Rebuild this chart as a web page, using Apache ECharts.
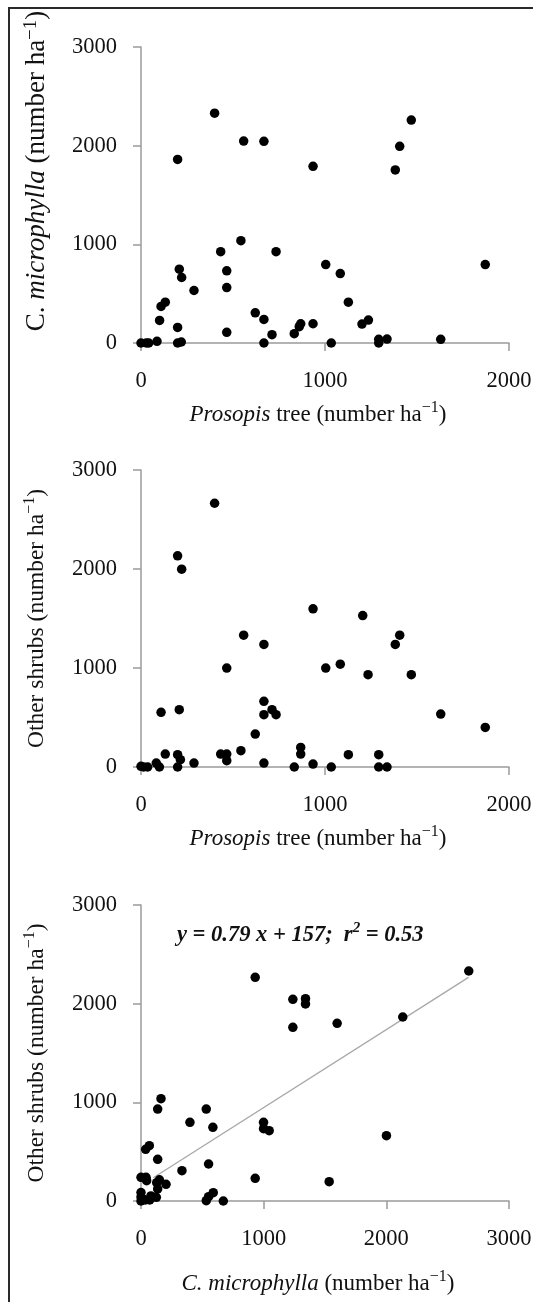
<!DOCTYPE html>
<html>
<head>
<meta charset="utf-8">
<script src="https://cdn.jsdelivr.net/npm/echarts@6/dist/echarts.min.js"></script>
<style>
  html, body { margin: 0; padding: 0; background: #fff; }
  #chart { width: 533px; height: 1302px; }
</style>
</head>
<body>
<div id="chart"></div>
<script>
// panel 1: Prosopis tree vs C. microphylla
const p1Prosopis = [0, 29, 42, 87, 101, 109, 132, 199, 199, 199, 219, 208, 221, 288, 400, 433, 466, 466, 466, 543, 558, 621, 668, 668, 668, 712, 734, 833, 860, 868, 935, 935, 1004, 1034, 1083, 1127, 1201, 1236, 1292, 1292, 1337, 1382, 1406, 1469, 1629, 1871]
const p1Cmicro = [0, 0, 0, 17, 229, 371, 414, 1860, 158, 0, 10, 748, 664, 532, 2329, 926, 731, 562, 108, 1037, 2047, 306, 2044, 239, 0, 84, 926, 94, 165, 195, 1791, 195, 795, 0, 704, 414, 192, 232, 37, 0, 40, 1754, 1993, 2259, 37, 795]

// panel 2: Prosopis tree vs other shrubs
const p2Prosopis = [0, 14, 36, 83, 100, 109, 132, 199, 221, 208, 199, 214, 199, 288, 400, 433, 466, 466, 466, 543, 558, 621, 668, 668, 668, 668, 712, 734, 833, 868, 868, 935, 935, 1004, 1034, 1083, 1127, 1205, 1234, 1292, 1292, 1337, 1382, 1406, 1469, 1629, 1871]
const p2Shrubs = [7, 0, 0, 40, 0, 552, 131, 2133, 1998, 579, 124, 74, 0, 40, 2664, 131, 131, 64, 999, 165, 1332, 333, 1238, 663, 528, 40, 579, 528, 0, 198, 131, 1598, 30, 999, 0, 1039, 124, 1530, 932, 124, 0, 0, 1238, 1332, 932, 535, 400]

// panel 3: C. microphylla vs other shrubs
const p3Cmicro = [2672, 931, 1238, 1341, 1341, 1238, 1599, 2134, 163, 136, 532, 399, 586, 999, 999, 1045, 2001, 38, 68, 136, 551, 334, 0, 41, 46, 128, 204, 136, 931, 1534, 0, 0, 0, 35, 71, 125, 532, 551, 589, 671, 150, 14, 81]
const p3Shrubs = [2331, 2267, 2044, 2051, 1997, 1760, 1801, 1865, 1037, 932, 932, 797, 747, 797, 733, 713, 662, 524, 561, 422, 375, 307, 240, 240, 206, 186, 169, 122, 230, 196, 85, 40, 0, 10, 10, 37, 3, 44, 84, 0, 215, 17, 51]

// fitted line y = 0.79 x + 157, ends as drawn
const fitX = [100, 2670]
const fitY = [236, 2266]

const font = '"Liberation Serif", "Times New Roman", serif'
const axisGray = '#9b9b9b'

const zip = (xs, ys) => xs.map((x, i) => [x, ys[i]])

// rich styles for axis names, size given per axis
function richFor(size) {
  return {
    n: { fontFamily: font, fontSize: size, color: '#111', lineHeight: 30 },
    i: { fontFamily: font, fontSize: size, color: '#111', fontStyle: 'italic', lineHeight: 30 },
    sup: { fontFamily: font, fontSize: Math.round(size * 0.7), color: '#111', lineHeight: 14, verticalAlign: 'top' }
  }
}

const grids = [
  { left: 141, top: 47, width: 368, height: 296 },
  { left: 141, top: 470, width: 368, height: 297 },
  { left: 141, top: 905, width: 368, height: 296 }
]

function xAxis(idx, max, name, gap) {
  return {
    gridIndex: idx, type: 'value', min: 0, max: max, interval: 1000,
    name: name, nameLocation: 'middle', nameGap: gap,
    nameTextStyle: { rich: richFor(23), padding: [0, 14, 0, 0] },
    axisLine: { show: true, lineStyle: { color: axisGray, width: 1.5 } },
    axisTick: { show: true, inside: false, length: 8, lineStyle: { color: axisGray, width: 1.5 } },
    axisLabel: { margin: 27, fontFamily: font, fontSize: 22.5, color: '#111', formatter: v => String(v) },
    splitLine: { show: false }
  }
}

function yAxis(idx, name, size, pad) {
  return {
    gridIndex: idx, type: 'value', min: 0, max: 3000, interval: 1000,
    name: name, nameLocation: 'middle', nameGap: 89,
    nameTextStyle: { rich: richFor(size), padding: [0, 0, 0, pad] },
    axisLine: { show: true, lineStyle: { color: axisGray, width: 1.5 } },
    axisTick: { show: true, inside: false, length: 8, lineStyle: { color: axisGray, width: 1.5 } },
    axisLabel: { margin: 24, fontFamily: font, fontSize: 22.5, color: '#111', formatter: v => String(v) },
    splitLine: { show: false }
  }
}

function dots(idx, data) {
  return {
    type: 'scatter', xAxisIndex: idx, yAxisIndex: idx, data: data,
    symbol: 'circle', symbolSize: 9.5,
    itemStyle: { color: '#000', opacity: 1 },
    silent: true, animation: false
  }
}

const chart = echarts.init(document.getElementById('chart'), null, { renderer: 'canvas' })

chart.setOption({
  backgroundColor: '#fff',
  animation: false,
  grid: grids.map(g => Object.assign({ outerBoundsMode: 'none', containLabel: false }, g)),
  xAxis: [
    xAxis(0, 2000, '{i|Prosopis}{n| tree (number ha}{sup|−1}{n|)}', 57),
    xAxis(1, 2000, '{i|Prosopis}{n| tree (number ha}{sup|−1}{n|)}', 57),
    xAxis(2, 3000, '{i|C. microphylla}{n| (number ha}{sup|−1}{n|)}', 68)
  ],
  yAxis: [
    yAxis(0, '{n|C. }{i|microphylla}{n| (number ha}{sup|−1}{n|)}', 27, 48),
    yAxis(1, '{n|Other shrubs (number ha}{sup|−1}{n|)}', 23.5, 0),
    yAxis(2, '{n|Other shrubs (number ha}{sup|−1}{n|)}', 23.5, 0)
  ],
  series: [
    dots(0, zip(p1Prosopis, p1Cmicro)),
    dots(1, zip(p2Prosopis, p2Shrubs)),
    {
      type: 'line', xAxisIndex: 2, yAxisIndex: 2, data: zip(fitX, fitY),
      symbol: 'none', lineStyle: { color: '#a8a8a8', width: 1.3 }, silent: true, z: 1
    },
    Object.assign(dots(2, zip(p3Cmicro, p3Shrubs)), { z: 3 })
  ],
  graphic: [
    // frame round the figure (left and top edges)
    { type: 'line', shape: { x1: 9, y1: 8, x2: 9, y2: 1302 }, style: { stroke: '#2a2a2a', lineWidth: 2 } },
    { type: 'line', shape: { x1: 8, y1: 8, x2: 533, y2: 8 }, style: { stroke: '#2a2a2a', lineWidth: 2 } },
    {
      type: 'text', left: 177, top: 921,
      style: {
        text: '{e|y = 0.79 x + 157;  r}{s|2}{e| = 0.53}',
        rich: {
          e: { fontFamily: font, fontSize: 22.5, fontStyle: 'italic', fontWeight: 'bold', fill: '#111', lineHeight: 28 },
          s: { fontFamily: font, fontSize: 15, fontStyle: 'italic', fontWeight: 'bold', fill: '#111', lineHeight: 14, verticalAlign: 'top' }
        }
      }
    }
  ]
})
</script>
</body>
</html>
